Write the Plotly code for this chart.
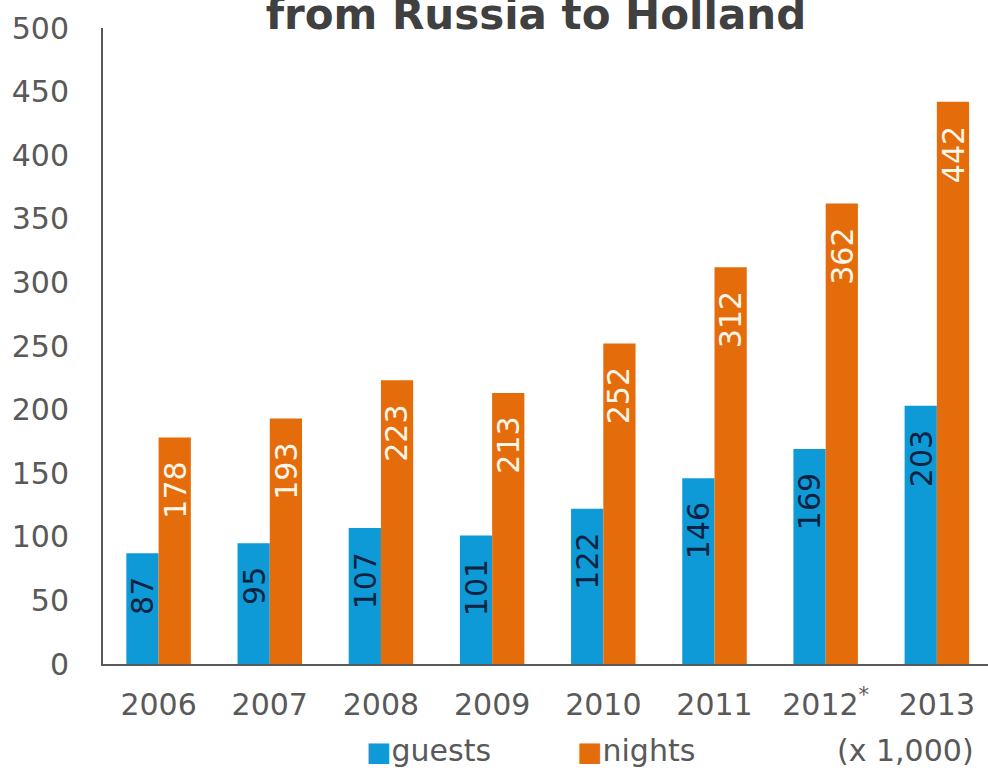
import plotly.graph_objects as go

years = ["2006", "2007", "2008", "2009", "2010", "2011", "2012", "2013"]
year_labels = ["2006", "2007", "2008", "2009", "2010", "2011", "2012<sup>*</sup>", "2013"]
guests = [87, 95, 107, 101, 122, 146, 169, 203]
nights = [178, 193, 223, 213, 252, 312, 362, 442]
y_ticks = [0, 50, 100, 150, 200, 250, 300, 350, 400, 450, 500]
series_names = ["guests", "nights"]

BLUE = "#0e9ad7"
ORANGE = "#e46c0a"
GRAY = "#595959"
FONT = "DejaVu Sans"

W, H = 988, 768
ML, MR, MT, MB = 103, 0, 28, 104
PW, PH = W - ML - MR, H - MT - MB


def px_x(p):
    return (p - ML) / PW


def px_y(p):
    return (H - MB - p) / PH


fig = go.Figure()
fig.add_trace(go.Bar(x=years, y=guests, name=series_names[0], marker=dict(color=BLUE, line=dict(width=0))))
fig.add_trace(go.Bar(x=years, y=nights, name=series_names[1], marker=dict(color=ORANGE, line=dict(width=0))))

# value labels inside the bars, rotated
for i, (g, n) in enumerate(zip(guests, nights)):
    fig.add_annotation(x=i, y=g, xref="x", yref="y", text=str(g), textangle=-90,
                       xshift=-16, yshift=-22, yanchor="top", xanchor="center", showarrow=False,
                       font=dict(family=FONT, size=30, color="#0b2340"))
    fig.add_annotation(x=i, y=n, xref="x", yref="y", text=str(n), textangle=-90,
                       xshift=16, yshift=-22, yanchor="top", xanchor="center", showarrow=False,
                       font=dict(family=FONT, size=30, color="#fff6ea"))

# legend drawn as marker + text items at the bottom
legend_items = [(series_names[0], BLUE, 364), (series_names[1], ORANGE, 575)]
for name, col, sq_x in legend_items:
    fig.add_annotation(x=px_x(sq_x), y=px_y(750), xref="paper", yref="paper",
                       text=f'<span style="color:{col};font-size:27px">■</span>{name}',
                       showarrow=False, xanchor="left", yanchor="middle",
                       font=dict(family=FONT, size=30, color=GRAY))

fig.add_annotation(x=px_x(976), y=px_y(750), xref="paper", yref="paper", text="(x 1,000)",
                   showarrow=False, xanchor="right", yanchor="middle",
                   font=dict(family=FONT, size=30, color=GRAY))

fig.update_layout(
    width=W, height=H,
    margin=dict(l=ML, r=MR, t=MT, b=MB, pad=0, autoexpand=False),
    paper_bgcolor="white", plot_bgcolor="white",
    barmode="group", bargap=0.42, bargroupgap=0,
    font=dict(family=FONT, size=30, color=GRAY),
    title=dict(text="<b>from Russia to Holland</b>", x=0.5425, xref="container", xanchor="center",
               y=0.982, yref="container", yanchor="middle",
               font=dict(family=FONT, size=42, color="#404040")),
    showlegend=False,
    xaxis=dict(tickmode="array", tickvals=years, ticktext=year_labels, range=[-0.5, 7.46],
               showline=True, linecolor=GRAY, linewidth=2, ticks="", showgrid=False,
               automargin=False, ticklabelstandoff=13,
               tickfont=dict(family=FONT, size=30, color=GRAY)),
    yaxis=dict(range=[0, 500], tickvals=y_ticks, showline=True, linecolor=GRAY, linewidth=2,
               ticks="", showgrid=False, zeroline=False, automargin=False, ticklabelstandoff=26,
               tickfont=dict(family=FONT, size=30, color=GRAY)),
)

fig.write_html("out.html", config={"displayModeBar": False},
               post_script="document.body.style.margin='0';document.body.style.overflow='hidden';")
